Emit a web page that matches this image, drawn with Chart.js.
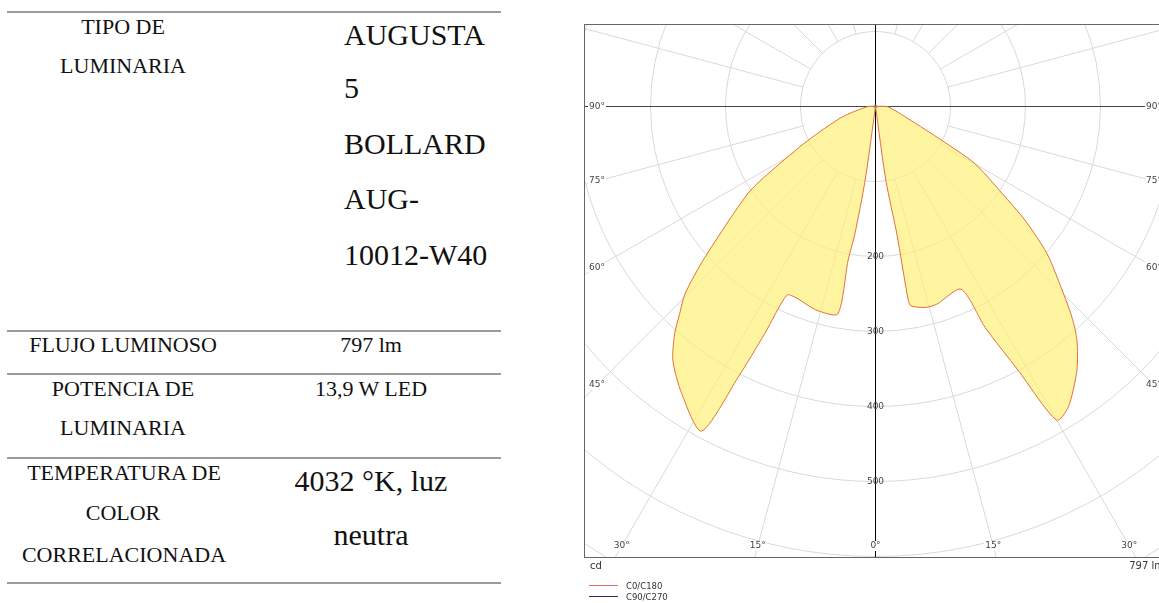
<!DOCTYPE html>
<html>
<head>
<meta charset="utf-8">
<script src="https://cdn.jsdelivr.net/npm/chart.js@4.4.0/dist/chart.umd.min.js"></script>
<style>
  body { margin: 0; width: 1159px; height: 603px; overflow: hidden; background: #fff; position: relative;
         font-family: "Liberation Serif", "Times New Roman", serif; color: #111; }
  .c { position: absolute; white-space: nowrap; line-height: 1; transform: translate(-50%, -50%); }
  .l { position: absolute; white-space: nowrap; line-height: 1; transform: translateY(-50%); }
  .rule { position: absolute; left: 7px; width: 494px; height: 2px; background: #9b9b9b; }
  .s { position: absolute; white-space: nowrap; line-height: 1; font-family: "DejaVu Sans", sans-serif; color: #333; transform: translateY(-50%); }
  .key { position: absolute; left: 589px; width: 29px; height: 1px; }
  #wrap { position: absolute; left: 575px; top: 0; width: 600px; height: 603px; }
</style>
</head>
<body>
  <!-- table on the left -->
  <div class="rule" style="top:11px"></div>
  <div class="c" style="left:123px;top:27px;font-size:22px">TIPO DE</div>
  <div class="c" style="left:123px;top:66px;font-size:22px">LUMINARIA</div>
  <div class="l" style="left:344px;top:35px;font-size:30px">AUGUSTA</div>
  <div class="l" style="left:344px;top:88px;font-size:30px">5</div>
  <div class="l" style="left:344px;top:144px;font-size:30px">BOLLARD</div>
  <div class="l" style="left:344px;top:199px;font-size:30px">AUG-</div>
  <div class="l" style="left:344px;top:255px;font-size:30px">10012-W40</div>

  <div class="rule" style="top:330px"></div>
  <div class="c" style="left:123px;top:345px;font-size:22px">FLUJO LUMINOSO</div>
  <div class="c" style="left:371px;top:345px;font-size:22px">797 lm</div>

  <div class="rule" style="top:373px"></div>
  <div class="c" style="left:123px;top:389px;font-size:22px">POTENCIA DE</div>
  <div class="c" style="left:123px;top:428px;font-size:22px">LUMINARIA</div>
  <div class="c" style="left:371px;top:389px;font-size:22px">13,9 W LED</div>

  <div class="rule" style="top:457px"></div>
  <div class="c" style="left:124px;top:473px;font-size:22px">TEMPERATURA DE</div>
  <div class="c" style="left:123px;top:513px;font-size:22px">COLOR</div>
  <div class="c" style="left:124px;top:555px;font-size:22px">CORRELACIONADA</div>
  <div class="c" style="left:371px;top:481px;font-size:30px">4032 °K, luz</div>
  <div class="c" style="left:371px;top:535px;font-size:30px">neutra</div>
  <div class="rule" style="top:582px"></div>

  <!-- polar diagram -->
  <div id="wrap"><canvas id="polar" width="600" height="603"></canvas></div>
  <div class="s" style="left:590px;top:566px;font-size:10px">cd</div>
  <div class="s" style="left:1164px;top:566px;font-size:10px;transform:translate(-100%,-50%)">797 lm</div>
  <div class="key" style="top:585px;background:#e06a6a"></div>
  <div class="s" style="left:626px;top:586px;font-size:8.5px">C0/C180</div>
  <div class="key" style="top:596px;background:#2c2c66"></div>
  <div class="s" style="left:626px;top:597px;font-size:8.5px">C90/C270</div>

<script>
// gamma angles (deg from nadir) and intensities (cd)
const c0Angles = [0, 8, 9.5, 9.6, 10.1, 13.9, 17.2, 25.1, 26.4, 28.4, 30.0, 32.7, 37.3, 40.7, 43.0, 46.4, 49.4, 52.7, 55.5, 60.1, 62.9, 69.7, 78, 90, 92, 180];
const c0Values = [0, 100, 172, 262, 270, 276, 276, 269, 329, 400, 483, 476, 443, 412, 384, 337, 301, 251, 205, 153, 100, 46, 27, 15, 0, 0];

const c180Angles = [0, 8, 9.2, 10.1, 10.3, 15.7, 18.7, 22.9, 25.2, 26.0, 26.9, 28.2, 34.0, 38.6, 41.5, 43.4, 45.5, 48.5, 55.7, 58.3, 63.3, 72.4, 90, 92, 180];
const c180Values = [0, 100, 172, 209, 281, 283, 280, 276, 278, 337, 405, 491, 462, 433, 404, 380, 356, 304, 206, 163, 101, 47, 10, 0, 0];

const ringValues = [100, 200, 300, 400, 500, 600, 700, 800];
const ringLabels = [200, 300, 400, 500];
const angleLabels = [0, 15, 30, 45, 60, 75, 90];
const spokeAngles = [15, 30, 45, 60, 75, 105, 120, 135, 150, 165];

// polar -> x/y in cd units (C0 to the right, C180 to the left, nadir down)
function toPoints(angles, values, side) {
  return angles.map((g, i) => {
    const a = g * Math.PI / 180;
    return { x: side * values[i] * Math.sin(a), y: -values[i] * Math.cos(a) };
  });
}

const polarGrid = {
  id: 'polarGrid',
  beforeDatasetsDraw(chart) {
    const { ctx, chartArea: area, scales } = chart;
    const cx = scales.x.getPixelForValue(0);
    const cy = scales.y.getPixelForValue(0);
    const k = scales.x.getPixelForValue(100) - cx;
    ctx.save();
    ctx.beginPath();
    ctx.rect(area.left, area.top, area.right - area.left, area.bottom - area.top);
    ctx.clip();
    ctx.lineWidth = 1;
    ctx.strokeStyle = '#d9d9d9';
    for (const r of ringValues) {
      ctx.beginPath();
      ctx.arc(cx, cy, r * k / 100, 0, Math.PI * 2);
      ctx.stroke();
    }
    for (const g of spokeAngles) {
      const a = g * Math.PI / 180;
      for (const side of [1, -1]) {
        ctx.beginPath();
        ctx.moveTo(cx + side * Math.sin(a) * k, cy + Math.cos(a) * k);
        ctx.lineTo(cx + side * Math.sin(a) * k * 12, cy + Math.cos(a) * k * 12);
        ctx.stroke();
      }
    }
    ctx.strokeStyle = '#000';
    ctx.beginPath();
    ctx.moveTo(cx, area.top);
    ctx.lineTo(cx, area.bottom);
    ctx.stroke();
    ctx.strokeStyle = '#444';
    ctx.beginPath();
    ctx.moveTo(area.left, cy);
    ctx.lineTo(area.right, cy);
    ctx.stroke();
    ctx.restore();
  },
  afterDatasetsDraw(chart) {
    const { ctx, chartArea: area, scales } = chart;
    const cx = scales.x.getPixelForValue(0);
    const cy = scales.y.getPixelForValue(0);
    const k = scales.x.getPixelForValue(100) - cx;
    ctx.save();
    ctx.strokeStyle = '#666';
    ctx.lineWidth = 1;
    ctx.strokeRect(area.left + 0.5, area.top + 0.5, area.right - area.left - 1, area.bottom - area.top - 1);

    ctx.font = '9px "DejaVu Sans", sans-serif';
    ctx.textAlign = 'center';
    ctx.textBaseline = 'middle';
    // angle labels sit on their spoke, just inside the frame
    const sideX = (cx - area.left) - 13;
    const bottomY = (area.bottom - cy) - 12;
    for (const g of angleLabels) {
      const a = g * Math.PI / 180;
      for (const side of g === 0 ? [1] : [1, -1]) {
        const tSide = Math.sin(a) > 0 ? sideX / Math.sin(a) : Infinity;
        const tBottom = Math.cos(a) > 1e-6 ? bottomY / Math.cos(a) : Infinity;
        const t = Math.min(tSide, tBottom);
        const x = cx + side * Math.sin(a) * t;
        const y = cy + Math.cos(a) * t;
        const txt = g + '°';
        const w = ctx.measureText(txt).width;
        ctx.fillStyle = '#fff';
        ctx.fillRect(x - w / 2 - 1, y - 5, w + 2, 10);
        ctx.fillStyle = '#444';
        ctx.fillText(txt, x, y);
      }
    }
    ctx.fillStyle = '#444';
    for (const r of ringLabels) {
      ctx.fillText(String(r), cx, cy + r * k / 100);
    }
    ctx.strokeStyle = '#888';
    ctx.beginPath();
    ctx.arc(cx, cy, 1.5, 0, Math.PI * 2);
    ctx.stroke();
    ctx.restore();
  }
};

const lobe = {
  showLine: true,
  fill: 'shape',
  backgroundColor: 'rgba(255, 240, 120, 0.7)',
  borderColor: '#e0703c',
  borderWidth: 1,
  pointRadius: 0,
  tension: 0.25
};

new Chart(document.getElementById('polar'), {
  type: 'scatter',
  data: {
    datasets: [
      Object.assign({ label: 'C0/C180', data: toPoints(c0Angles, c0Values, 1) }, lobe),
      Object.assign({ label: 'C0/C180 ', data: toPoints(c180Angles, c180Values, -1) }, lobe)
    ]
  },
  options: {
    responsive: false,
    animation: false,
    layout: { padding: { left: 9, top: 24, right: 8, bottom: 45 } },
    scales: {
      x: { type: 'linear', min: -388.667, max: 388.667, display: false },
      y: { type: 'linear', min: -602, max: 110, display: false }
    },
    plugins: {
      legend: { display: false },
      tooltip: { enabled: false }
    }
  },
  plugins: [polarGrid]
});
</script>
</body>
</html>
